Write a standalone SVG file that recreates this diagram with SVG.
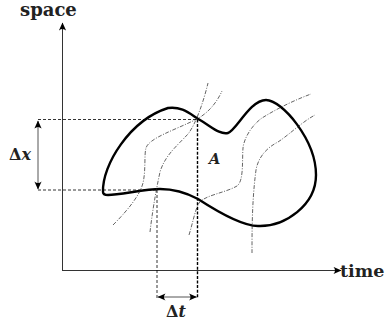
<svg xmlns="http://www.w3.org/2000/svg" width="390" height="324" viewBox="0 0 390 324">
<style>
.ax{stroke:#333;stroke-width:1;fill:none}
.dash{stroke:#000;stroke-width:0.8;stroke-dasharray:3 2;fill:none}
.dashb{stroke:#000;stroke-width:1.4;stroke-dasharray:3 1.6;fill:none}
.dd{stroke:#222;stroke-width:0.7;stroke-dasharray:4 1.5 1 1.5;fill:none}
.dim{stroke:#555;stroke-width:1;fill:none}
.blob{stroke:#000;stroke-width:2.4;fill:none;stroke-linejoin:round}
.lbl{font-family:"DejaVu Serif",serif;font-weight:bold;fill:#222}
</style>
<defs>
<marker id="arr" viewBox="-8 -4 9 8" refX="0" refY="0" markerWidth="9" markerHeight="8" markerUnits="userSpaceOnUse" orient="auto-start-reverse">
<path d="M0.5,0 L-7.5,-3.6 Q-4.5,0 -7.5,3.6 Z" fill="#000"/>
</marker>
</defs>
<g id="axes">
<line class="ax" x1="62.5" y1="270.5" x2="62.5" y2="23" marker-end="url(#arr)"/>
<line class="ax" x1="62" y1="270.5" x2="341" y2="270.5" marker-end="url(#arr)"/>
<text class="lbl" x="20" y="16" font-size="18">space</text>
<text class="lbl" x="340" y="277" font-size="17.5">time</text>
</g>
<g id="region">
<path class="blob" d="M103,192 C102,165 130,120 168,108 C182,106 190,114 200,120 C212,127 220,135 228,133 C236,131 250,100 266,100 C282,100 316,140 316,175 C316,205 285,227 258,226 C242,226 218,212 198,199 C185,192 172,189 160,189 C145,189 120,195 108,195 C104,195 103,194 103,192 Z"/>
<text class="lbl" x="209" y="164" font-size="14.5" font-style="italic">A</text>
</g>
<g id="trajectories">
<path class="dd" d="M113,225 C128,210 140,195 143,183 C146,170 144,155 146,148 C149,138 175,130 197,119 C210,112 218,100 222,91"/>
<path class="dd" d="M150,232 C152,215 155,195 160,172 C165,155 178,145 188,134 C196,124 204,100 208,83"/>
<path class="dd" d="M189,235 C193,222 195,210 199,203 C205,195 225,193 237,186 C244,181 242,160 243,148 C244,138 252,125 262,118 C278,108 295,100 311,94"/>
<path class="dd" d="M252,253 C252,230 252,200 256,170 C258,158 266,148 278,142 C290,134 302,122 315,115"/>
</g>
<g id="connectors">
<line class="dash" x1="38" y1="119.5" x2="197" y2="119.5"/>
<line class="dash" x1="38" y1="190" x2="157" y2="190"/>
<line class="dash" x1="157" y1="190" x2="157" y2="298"/>
<line class="dashb" x1="197.5" y1="119.5" x2="197.5" y2="298"/>
<line class="dim" x1="38" y1="121" x2="38" y2="189" marker-start="url(#arr)" marker-end="url(#arr)"/>
<line class="dim" x1="158" y1="297" x2="196.5" y2="297" marker-start="url(#arr)" marker-end="url(#arr)"/>
</g>
<g id="dimension-labels">
<text class="lbl" x="9" y="160" font-size="16">Δ<tspan font-style="italic">x</tspan></text>
<text class="lbl" x="166" y="317" font-size="16">Δ<tspan font-style="italic">t</tspan></text>
</g>
</svg>
